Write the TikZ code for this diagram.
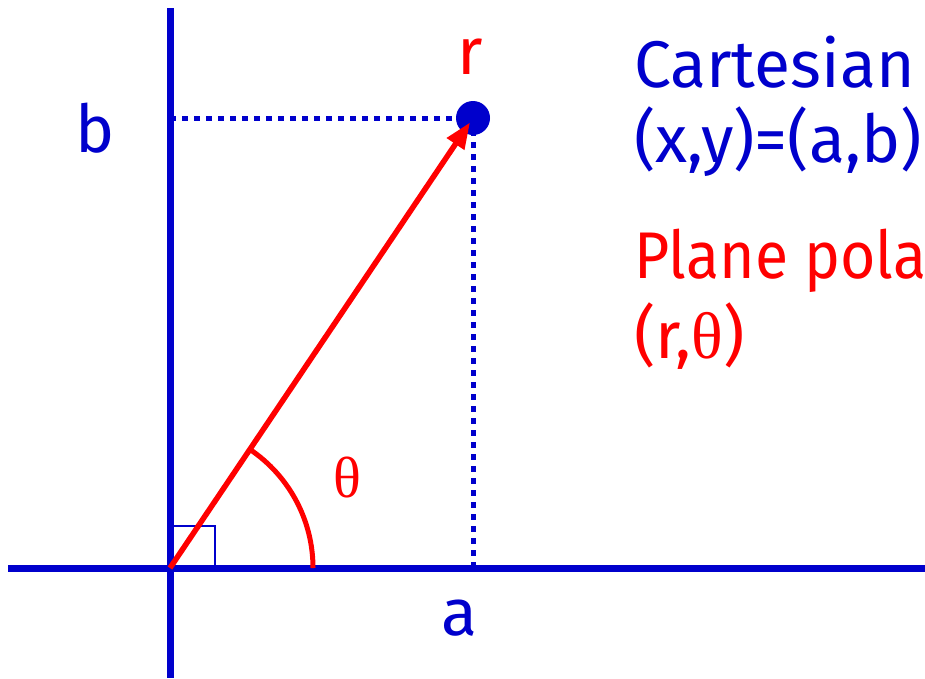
\documentclass[tikz,border=0pt]{standalone}
\usepackage{fontspec}
\setmainfont{Fira Sans}
\newfontfamily\thetafont{Liberation Serif}
\usetikzlibrary{arrows.meta,calc}
\definecolor{axblue}{RGB}{0,0,204}
\definecolor{vred}{RGB}{255,0,0}
\tikzset{
  axis/.style={draw=axblue, line width=7pt},
  dotline/.style={draw=axblue, line width=5pt, dash pattern=on 6pt off 6pt},
  lbl/.style={inner sep=0pt, anchor=base west, font=\fontsize{66}{78}\selectfont},
}
\begin{document}
\begin{tikzpicture}[x=1pt,y=-1pt]
\useasboundingbox (0,0) rectangle (925,678);
\clip (0,0) rectangle (925,678);
\coordinate (O) at (170,568);
\coordinate (P) at (473,118);
\coordinate (B) at (170,118);
\coordinate (A) at (473,568);
\coordinate (Ytop) at (170,8);
\coordinate (Ybot) at (170,678);
\coordinate (Xl) at (8,568);
\coordinate (Xr) at (925,568);
\coordinate (T0) at (313,568);
% axes
\draw[axis] (Ytop) -- (Ybot);
\draw[axis] (Xl) -- (Xr);
% right angle box
\draw[axblue, line width=2pt] (170,526) -- (215,526) -- (215,565);
% dotted projections
\draw[dotline] (B) -- (P);
\draw[dotline] (P) -- (A);
% point
\node[circle, fill=axblue, minimum size=34pt, inner sep=0pt] (Pt) at (P) {};
% vector
\draw[vred, line width=5.5pt, -{Triangle[length=26pt,width=20pt]}] (O) -- ($(O)!0.99!(P)$);
% theta arc
\draw[vred, line width=5pt] (T0) arc[start angle=0, end angle=-56, radius=143];
% labels
\node[lbl, text=vred] (rl) at (457,74) {r};
\node[lbl, text=axblue] (bl) at (75,152) {b};
\node[lbl, text=axblue] (al) at (441,635) {a};
\node[inner sep=0pt, anchor=base west, text=vred, font=\thetafont\fontsize{58}{68}\selectfont] (th) at (333,497) {θ};
\node[lbl, text=axblue] (c1) at (634,87) {Cartesian};
\node[lbl, text=axblue] (c2) at (634,162) {(x,y)=(a,b)};
\node[lbl, text=vred, xscale=0.92] (p1) at (634,278) {Plane pola};
\node[lbl, text=vred] (p2) at (634,358) {(r,{\thetafont θ})};
\end{tikzpicture}
\end{document}
